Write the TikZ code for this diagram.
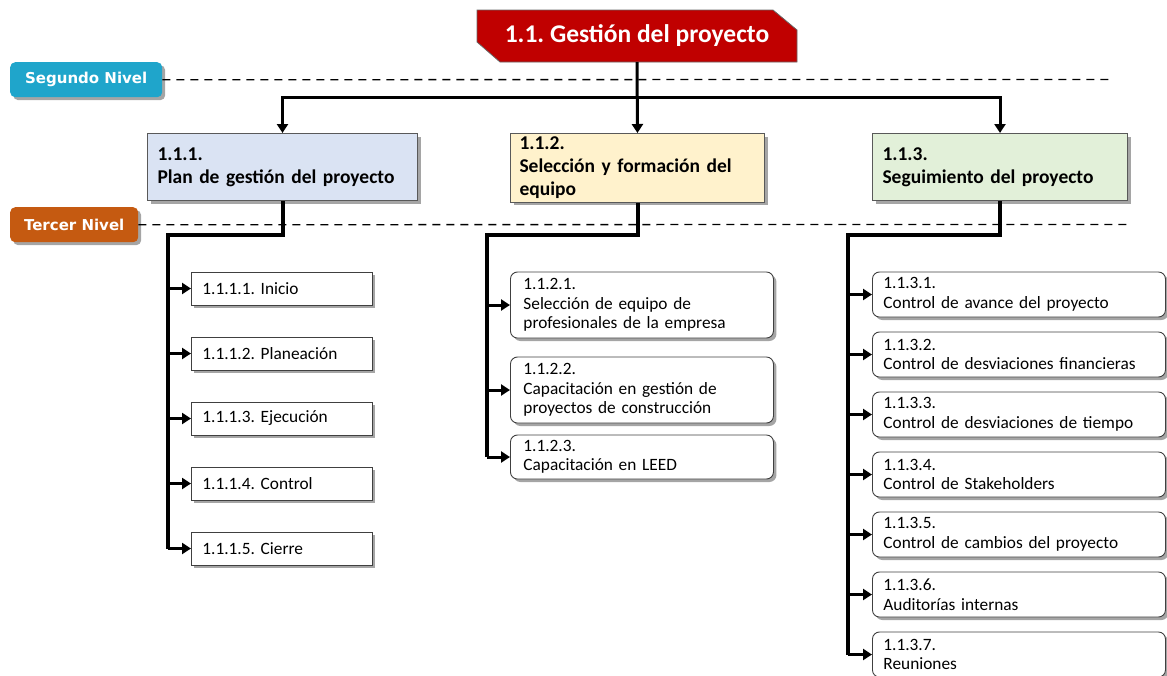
\documentclass[tikz,border=0pt]{standalone}
\usepackage{fontspec}
\setmainfont{Carlito}
\newfontfamily\lvlfont{DejaVu Sans}
\usetikzlibrary{shadows,arrows.meta}
\definecolor{rootred}{HTML}{C00000}
\definecolor{lvlblue}{HTML}{1FA5CB}
\definecolor{lvlorange}{HTML}{C55A11}
\definecolor{planblue}{HTML}{DAE3F3}
\definecolor{teamyellow}{HTML}{FFF2CC}
\definecolor{trackgreen}{HTML}{E2F0D9}
\frenchspacing

\begin{document}
\begin{tikzpicture}[x=1pt,y=-1pt,
    shade/.style={drop shadow={shadow xshift=3pt,shadow yshift=-3pt,opacity=.5,fill=black!70}},
    level/.style={rounded corners=5pt,text=white,anchor=north west,inner sep=0pt,
      font=\lvlfont\bfseries\fontsize{15}{17}\selectfont,shade},
    head/.style={draw=black!65,line width=1pt,anchor=north west,minimum height=67pt,
      align=left,font=\bfseries\fontsize{19.5}{23}\selectfont,shade},
    task/.style={draw=black!75,line width=.9pt,fill=white,anchor=west,align=left,
      font=\fontsize{17.3}{19.5}\selectfont,shade},
    taskr/.style={task,rounded corners=7pt},
    trunk/.style={line width=4pt},
    link/.style={line width=3pt,-{Triangle[length=9pt,width=11pt]}},
    levelline/.style={line width=1.3pt,dash pattern=on 8pt off 6pt}]
    \useasboundingbox (0,0) rectangle (1167,675);

    % niveles
    \node[level,fill=lvlblue,minimum width=152pt,minimum height=35pt] (lvl2) at (10,62) {Segundo Nivel};
    \node[level,fill=lvlorange,minimum width=128pt,minimum height=35pt] (lvl3) at (10,207) {Tercer Nivel};
    \coordinate (lvl2end) at (1113,79.5);
    \coordinate (lvl3end) at (1127,224.5);
    \draw[levelline] (lvl2.east) -- (lvl2end);
    \draw[levelline] (lvl3.east) -- (lvl3end);

    % raiz
    \fill[rootred,draw=black!60,line width=.8pt] (477,10) -- (773,10) -- (797,30) -- (797,62) -- (500,62) -- (477,42) -- cycle;
    \node[minimum width=320pt,minimum height=52pt,inner sep=0pt,text=white,
      font=\bfseries\fontsize{25.5}{28}\selectfont] (root) at (637,36) {1.1. Gestión del proyecto};

    % segundo nivel
    \node[head,fill=planblue,inner xsep=10pt,text width=250pt] (h1) at (147,133) {1.1.1.\\Plan de gestión del proyecto};
    \node[head,fill=teamyellow,inner xsep=9pt,text width=236pt] (h2) at (510,133) {1.1.2.\\Selección y formación del\\equipo};
    \node[head,fill=trackgreen,inner xsep=10pt,text width=235pt] (h3) at (872,133) {1.1.3.\\Seguimiento del proyecto};

    \coordinate (bus) at (637,97);
    \draw[link] (root.south) -- (h2.north);
    \draw[link] (bus) -| (h1.north);
    \draw[link] (bus) -| (h3.north);

    % tercer nivel
    \node[task,inner xsep=11pt,text width=159pt,minimum height=33pt] (s11) at (191,288.5) {1.1.1.1. Inicio};
    \node[task,inner xsep=11pt,text width=159pt,minimum height=33pt] (s12) at (191,353.5) {1.1.1.2. Planeación};
    \node[task,inner xsep=11pt,text width=159pt,minimum height=33pt] (s13) at (191,418.5) {1.1.1.3. Ejecución};
    \node[task,inner xsep=11pt,text width=159pt,minimum height=33pt] (s14) at (191,483.5) {1.1.1.4. Control};
    \node[task,inner xsep=11pt,text width=159pt,minimum height=33pt] (s15) at (191,548.5) {1.1.1.5. Cierre};

    \node[taskr,inner xsep=13pt,text width=237pt,minimum height=66pt] (s21) at (510,305) {1.1.2.1.\\Selección de equipo de\\profesionales de la empresa};
    \node[taskr,inner xsep=13pt,text width=237pt,minimum height=66pt] (s22) at (510,390) {1.1.2.2.\\Capacitación en gestión de\\proyectos de construcción};
    \node[taskr,inner xsep=13pt,text width=237pt,minimum height=44pt] (s23) at (510,457) {1.1.2.3.\\Capacitación en LEED};

    \node[taskr,inner xsep=11pt,text width=271pt,minimum height=45pt] (s31) at (872,294.5) {1.1.3.1.\\Control de avance del proyecto};
    \node[taskr,inner xsep=11pt,text width=271pt,minimum height=45pt] (s32) at (872,354.5) {1.1.3.2.\\Control de desviaciones financieras};
    \node[taskr,inner xsep=11pt,text width=271pt,minimum height=45pt] (s33) at (872,414.5) {1.1.3.3.\\Control de desviaciones de tiempo};
    \node[taskr,inner xsep=11pt,text width=271pt,minimum height=45pt] (s34) at (872,474.5) {1.1.3.4.\\Control de Stakeholders};
    \node[taskr,inner xsep=11pt,text width=271pt,minimum height=45pt] (s35) at (872,534.5) {1.1.3.5.\\Control de cambios del proyecto};
    \node[taskr,inner xsep=11pt,text width=271pt,minimum height=45pt] (s36) at (872,594.5) {1.1.3.6.\\Auditorías internas};
    \node[taskr,inner xsep=11pt,text width=271pt,minimum height=45pt] (s37) at (872,654.5) {1.1.3.7.\\Reuniones};

    % conectores
    \coordinate (c1) at (168,235);
    \coordinate (c2) at (487,235);
    \coordinate (c3) at (848,235);
    \draw[trunk] (h1.south) |- (c1) -- (c1 |- s15.west);
    \draw[trunk] (h2.south) |- (c2) -- (c2 |- s23.west);
    \draw[trunk] (h3.south) |- (c3) -- (c3 |- s37.west);
    \draw[link] (c1 |- s11.west) -- (s11.west);
    \draw[link] (c1 |- s12.west) -- (s12.west);
    \draw[link] (c1 |- s13.west) -- (s13.west);
    \draw[link] (c1 |- s14.west) -- (s14.west);
    \draw[link] (c1 |- s15.west) -- (s15.west);
    \draw[link] (c2 |- s21.west) -- (s21.west);
    \draw[link] (c2 |- s22.west) -- (s22.west);
    \draw[link] (c2 |- s23.west) -- (s23.west);
    \draw[link] (c3 |- s31.west) -- (s31.west);
    \draw[link] (c3 |- s32.west) -- (s32.west);
    \draw[link] (c3 |- s33.west) -- (s33.west);
    \draw[link] (c3 |- s34.west) -- (s34.west);
    \draw[link] (c3 |- s35.west) -- (s35.west);
    \draw[link] (c3 |- s36.west) -- (s36.west);
    \draw[link] (c3 |- s37.west) -- (s37.west);
\end{tikzpicture}
\end{document}
